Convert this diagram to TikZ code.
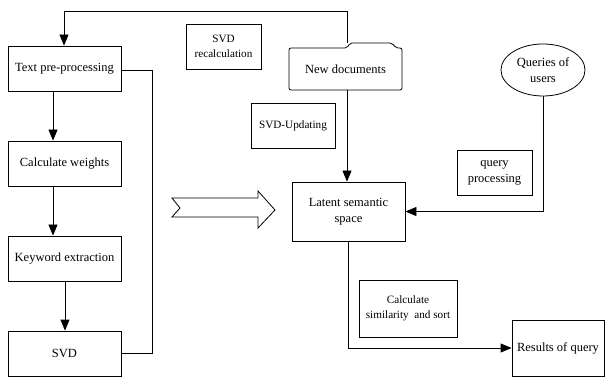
\documentclass[tikz,border=0pt]{standalone}
\usepackage{fontspec}
\setmainfont{Liberation Serif}
\usetikzlibrary{arrows.meta,shapes.geometric}
\begin{document}
\begin{tikzpicture}[x=1pt,y=-1pt,line width=0.8pt,
  >={Triangle[length=11pt,width=9pt]},
  mainfont/.style={font=\fontsize{12.5}{16}\selectfont},
  smallfont/.style={font=\fontsize{11.2}{15.5}\selectfont},
  box/.style={draw,rectangle,inner sep=0pt,align=center,minimum width=#1,minimum height=45pt},
  box/.default=113pt]
\useasboundingbox (0,0) rectangle (607,379);
% left column
\node[box,mainfont] (tp) at (64.5,68.5) {Text pre-processing};
\node[box,mainfont] (cw) at (64.5,163.5) {Calculate weights};
\node[box,mainfont] (ke) at (64.5,258.5) {Keyword extraction};
\node[box,mainfont] (svd) at (64.5,353.5) {SVD};
% labels boxes
\node[box=75pt,smallfont] (rec) at (223.5,46.5) {SVD\\recalculation};
\node[box=84pt,smallfont] (upd) at (293,125.5) {SVD-Updating};
\node[box=75pt,mainfont] (qp) at (494.5,172.5) {query\\processing};
\node[box=98pt,smallfont,minimum height=57pt] (cs) at (408,308.5) {Calculate\\similarity\ \ and sort};
% new documents folder
\node[inner sep=0pt,minimum width=113pt,minimum height=42pt,mainfont] (nd) at (345.5,69) {New documents};
\draw[rounded corners=2pt] (289,90) -- (289,48) -- (347,48) -- (350,43) -- (392,43) -- (396,48) -- (402,48) -- (402,90) -- cycle;
\coordinate (ndtab) at (347,43);
\coordinate (ndbot) at (347,90);
% queries ellipse
\node[draw,ellipse,inner sep=0pt,minimum width=84pt,minimum height=52pt,align=center,mainfont] (qu) at (543,70) {Queries of\\users};
% latent semantic space
\node[box,minimum height=59pt,mainfont] (lss) at (348.5,211.5) {Latent semantic\\space};
% results
\node[box=92pt,minimum height=56pt,mainfont] (res) at (558,348) {Results of query};
% block arrow
\draw (172,198) -- (258,198) -- (258,191) -- (275,210) -- (258,228) -- (258,217) -- (172,217) -- (180,208) -- cycle;
% connectors
\draw[->] (tp.south -| 53,0) -- (cw.north -| 53,0);
\draw[->] (cw.south -| 53,0) -- (ke.north -| 53,0);
\draw[->] (ke.south -| 65,0) -- (svd.north -| 65,0);
\draw[->] (ndtab) -- (347,11) -| (tp.north -| 64,0);
\draw (tp.east |- 0,70) -| (152,0 |- svd.east) -- (svd.east);
\draw[->] (ndbot) -- (lss.north -| ndbot);
\draw[->] (qu.south) |- (lss.east);
\draw[->] (lss.south) |- (res.west);
\end{tikzpicture}
\end{document}
